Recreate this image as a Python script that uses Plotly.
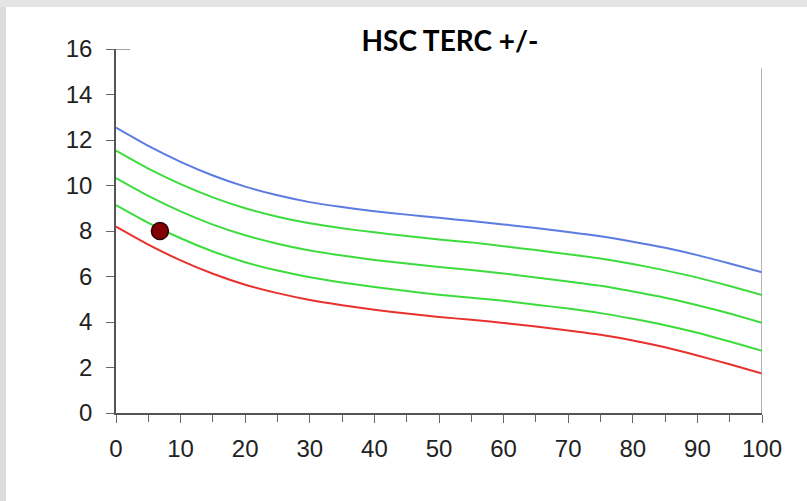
import plotly.graph_objects as go

x_vals = [0, 5, 10, 15, 20, 25, 30, 35, 40, 45, 50, 55, 60, 65, 70, 75, 80, 85, 90, 95, 100]
blue_line = [12.54, 11.74, 11.04, 10.44, 9.95, 9.57, 9.27, 9.05, 8.87, 8.72, 8.58,
             8.44, 8.29, 8.13, 7.96, 7.77, 7.53, 7.26, 6.94, 6.57, 6.18]
green_upper = [11.53, 10.74, 10.06, 9.48, 9.00, 8.63, 8.34, 8.12, 7.94, 7.78, 7.63,
               7.50, 7.33, 7.16, 6.98, 6.79, 6.55, 6.27, 5.95, 5.58, 5.19]
green_middle = [10.32, 9.54, 8.86, 8.28, 7.81, 7.44, 7.14, 6.92, 6.73, 6.57, 6.42,
                6.29, 6.13, 5.96, 5.78, 5.59, 5.34, 5.07, 4.74, 4.37, 3.97]
green_lower = [9.14, 8.36, 7.68, 7.10, 6.63, 6.26, 5.97, 5.74, 5.54, 5.36, 5.20,
               5.07, 4.93, 4.76, 4.59, 4.39, 4.14, 3.86, 3.53, 3.14, 2.73]
red_line = [8.19, 7.40, 6.71, 6.12, 5.64, 5.27, 4.97, 4.74, 4.54, 4.37, 4.22,
            4.10, 3.96, 3.80, 3.63, 3.44, 3.19, 2.89, 2.53, 2.14, 1.74]
point_x = [6.8]
point_y = [8.0]

x_ticks = list(range(0, 101, 10))
y_ticks = list(range(0, 17, 2))

fig = go.Figure()
series = [
    (blue_line, "#5b7be0"),
    (green_upper, "#3ddc3d"),
    (green_middle, "#3ddc3d"),
    (green_lower, "#3ddc3d"),
    (red_line, "#e8302c"),
]
for vals, col in series:
    fig.add_trace(go.Scatter(x=x_vals, y=vals, mode="lines",
                             line=dict(color=col, width=2, shape="spline", smoothing=0.6),
                             showlegend=False, hoverinfo="skip"))

fig.add_trace(go.Scatter(x=point_x, y=point_y, mode="markers",
                         marker=dict(size=17, color="#820000", line=dict(color="#2a0000", width=1.5)),
                         showlegend=False))

L, R, T, B = 116, 45, 49, 88
W, H = 807, 501
pw = W - L - R
ph = H - T - B

shapes = [
    dict(type="line", xref="x", yref="y", x0=100, x1=100, y0=0, y1=15.15,
         line=dict(color="#9a9a9a", width=1.5)),
    dict(type="line", xref="paper", yref="y", x0=0, x1=14 / pw, y0=16, y1=16,
         line=dict(color="#666666", width=1.2)),
    dict(type="rect", xref="paper", yref="paper", x0=-L / pw, x1=(6 - L) / pw,
         y0=-B / ph, y1=(H - B) / ph + 0.01, fillcolor="#dcdcdc", line=dict(width=0), layer="below"),
    dict(type="rect", xref="paper", yref="paper", x0=-L / pw, x1=(W - L) / pw,
         y0=(H - B - 7) / ph, y1=(H - B) / ph + 0.01, fillcolor="#e4e4e4", line=dict(width=0), layer="below"),
]

fig.update_layout(
    width=W, height=H,
    margin=dict(l=L, r=R, t=T, b=B),
    paper_bgcolor="white", plot_bgcolor="white",
    title=dict(text="<b>HSC TERC +/-</b>", x=(450 - L) / pw, xref="paper", xanchor="center",
               y=1 - 41 / H, yanchor="middle",
               font=dict(family="Lato, Carlito, Arial", size=28, color="#000000")),
    shapes=shapes,
    font=dict(family="Liberation Sans, Arial", size=24, color="#222222"),
)

fig.update_xaxes(range=[0, 100], tickvals=x_ticks, ticktext=[str(v) for v in x_ticks],
                 showgrid=False, zeroline=False, showline=True, linecolor="#555555", linewidth=1.5,
                 ticks="outside", ticklen=8, tickcolor="#666666", tickwidth=1,
                 minor=dict(dtick=5, tick0=0, ticks="outside", ticklen=7, tickcolor="#666666"),
                 ticklabelstandoff=5)
fig.update_yaxes(range=[0, 16], tickvals=y_ticks, ticktext=[str(v) for v in y_ticks],
                 showgrid=False, zeroline=False, showline=True, linecolor="#555555", linewidth=1.5,
                 ticks="outside", ticklen=8, tickcolor="#666666", tickwidth=1,
                 ticklabelstandoff=9)

fig.write_html("out.html")
